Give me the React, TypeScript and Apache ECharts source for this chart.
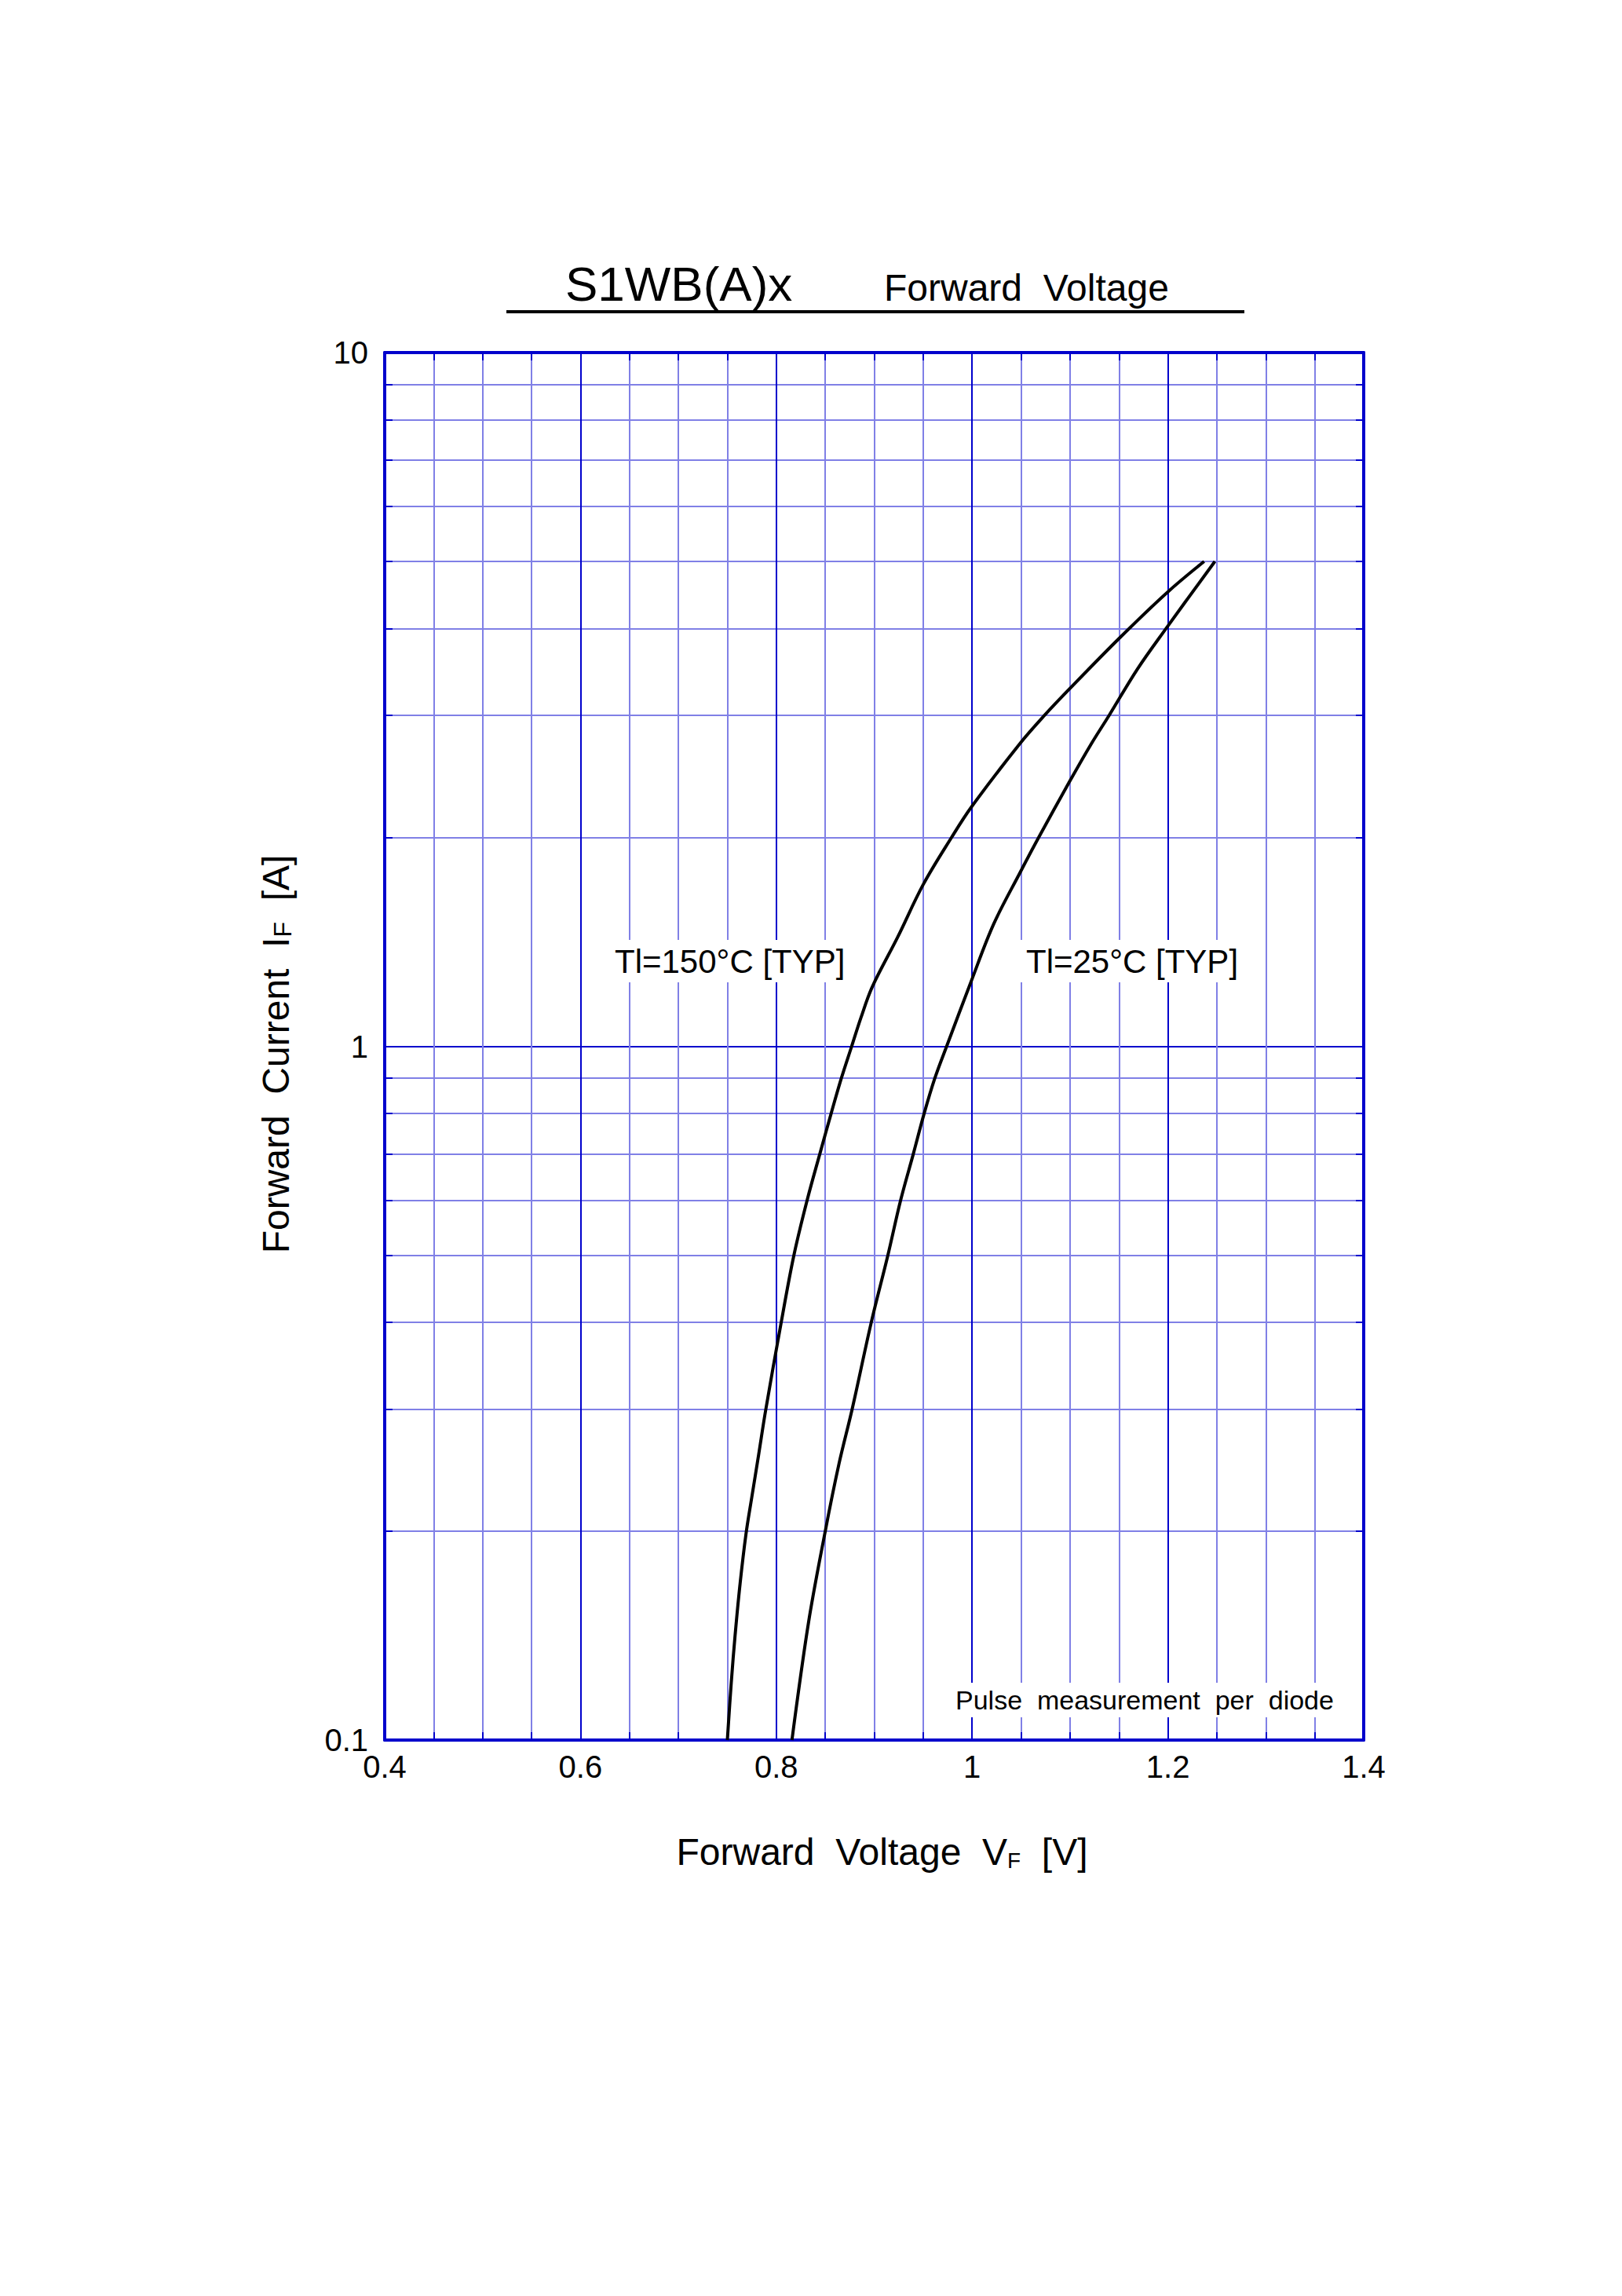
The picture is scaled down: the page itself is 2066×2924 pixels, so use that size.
import { useEffect, useRef } from 'react'
import * as echarts from 'echarts'

// Forward characteristic at Tl = 150 °C (typical)
const hot150Voltage = [
  0.75, 0.754, 0.758, 0.763, 0.769, 0.775, 0.782, 0.789, 0.805, 0.818, 0.8315, 0.8445, 0.856, 0.8665,
  0.877, 0.8865, 0.898, 0.924, 0.95, 0.979, 0.999, 1.049, 1.074, 1.1, 1.15, 1.2, 1.237,
]
const hot150Current = [
  0.1, 0.121, 0.142, 0.168, 0.198, 0.224, 0.258, 0.298, 0.4, 0.5, 0.6, 0.7, 0.8, 0.9,
  1.0, 1.1, 1.218, 1.437, 1.71, 2.0, 2.21, 2.733, 3.0, 3.28, 3.87, 4.52, 5.0,
]

// Forward characteristic at Tl = 25 °C (typical)
const room25Voltage = [
  0.816, 0.833, 0.85, 0.864, 0.8775, 0.897, 0.914, 0.927, 0.94, 0.951, 0.962, 0.974, 0.999, 1.022,
  1.049, 1.068, 1.099, 1.122, 1.14, 1.169, 1.198, 1.248,
]
const room25Current = [
  0.1, 0.148, 0.2, 0.25, 0.3, 0.4, 0.5, 0.6, 0.7, 0.8, 0.9, 1.0, 1.24, 1.5,
  1.78, 2.0, 2.4, 2.733, 3.0, 3.5, 4.0, 5.0,
]

const voltageTicks = [
  0.4, 0.45, 0.5, 0.55, 0.6, 0.65, 0.7, 0.75, 0.8, 0.85, 0.9, 0.95, 1.0, 1.05, 1.1, 1.15, 1.2, 1.25, 1.3,
  1.35, 1.4,
]
const voltageLabels = [0.4, 0.6, 0.8, 1, 1.2, 1.4]
const currentTicks = [
  0.1, 0.2, 0.3, 0.4, 0.5, 0.6, 0.7, 0.8, 0.9, 1, 2, 3, 4, 5, 6, 7, 8, 9, 10,
]
const currentLabels = [0.1, 1, 10]

const DARK = '#0000cc'
const LIGHT = '#8080e6'
const FONT = "'Liberation Sans', Arial, sans-serif"

const toPairs = (xs: number[], ys: number[]) => xs.map((x, i) => [x, ys[i]])

function ForwardVoltageChart() {
  const chartRef = useRef<HTMLDivElement>(null)

  useEffect(() => {
    if (!chartRef.current) return
    const chart = echarts.init(chartRef.current, null, { renderer: 'svg' })

    const frameTick = {
      show: true,
      inside: true,
      length: 10,
      lineStyle: { color: DARK, width: 2 },
    }
    const frameLine = { show: true, onZero: false, lineStyle: { color: DARK, width: 4 } }

    const option = {
      animation: false,
      textStyle: { fontFamily: FONT },
      grid: { left: 490, top: 449, width: 1247, height: 1767 },
      xAxis: [
        {
          type: 'value',
          position: 'bottom',
          min: 0.4,
          max: 1.4,
          axisLine: frameLine,
          axisTick: { ...frameTick, customValues: voltageTicks },
          axisLabel: {
            customValues: voltageLabels,
            margin: 14,
            fontSize: 40,
            color: '#000',
            fontFamily: FONT,
          },
          splitLine: {
            show: true,
            showMinLine: true,
            showMaxLine: true,
            lineStyle: { color: [DARK, LIGHT, LIGHT, LIGHT], width: 2 },
          },
          name: '{m|Forward  Voltage  V}{s|F}{m|  [V]}',
          nameLocation: 'middle',
          nameGap: 117,
          nameTextStyle: {
            color: '#000',
            padding: [0, 0, 0, 20],
            rich: {
              m: { fontSize: 48, lineHeight: 50, fontFamily: FONT, color: '#000' },
              s: { fontSize: 28, lineHeight: 22, verticalAlign: 'bottom', fontFamily: FONT, color: '#000' },
            },
          },
        },
        {
          type: 'value',
          position: 'top',
          min: 0.4,
          max: 1.4,
          axisLine: frameLine,
          axisTick: { ...frameTick, customValues: voltageTicks },
          axisLabel: { show: false },
          splitLine: { show: false },
        },
      ],
      yAxis: [
        {
          type: 'log',
          logBase: 10,
          position: 'left',
          min: 0.1,
          max: 10,
          axisLine: frameLine,
          axisTick: { ...frameTick, customValues: currentTicks },
          axisLabel: {
            customValues: currentLabels,
            margin: 21,
            fontSize: 40,
            color: '#000',
            fontFamily: FONT,
            padding: [8, 0, 0, 0],
          },
          splitLine: {
            show: true,
            showMinLine: true,
            showMaxLine: true,
            lineStyle: {
              color: [DARK, LIGHT, LIGHT, LIGHT, LIGHT, LIGHT, LIGHT, LIGHT, LIGHT],
              width: 2,
            },
          },
          name: '{m|Forward  Current  I}{s|F}{m|  [A]}',
          nameLocation: 'middle',
          nameGap: 114,
          nameTextStyle: {
            color: '#000',
            padding: [0, 20, 0, 0],
            rich: {
              m: { fontSize: 48, lineHeight: 50, fontFamily: FONT, color: '#000' },
              s: { fontSize: 32, lineHeight: 24, verticalAlign: 'bottom', fontFamily: FONT, color: '#000' },
            },
          },
        },
        {
          type: 'log',
          logBase: 10,
          position: 'right',
          min: 0.1,
          max: 10,
          axisLine: frameLine,
          axisTick: { ...frameTick, customValues: currentTicks },
          axisLabel: { show: false },
          splitLine: { show: false },
        },
      ],
      series: [
        {
          name: 'Tl=150°C',
          type: 'line',
          data: toPairs(hot150Voltage, hot150Current),
          showSymbol: false,
          smooth: 0.35,
          lineStyle: { color: '#000', width: 4 },
          z: 5,
        },
        {
          name: 'Tl=25°C',
          type: 'line',
          data: toPairs(room25Voltage, room25Current),
          showSymbol: false,
          smooth: 0.35,
          lineStyle: { color: '#000', width: 4 },
          z: 5,
        },
      ],
      graphic: [
        {
          type: 'text',
          x: 720,
          y: 361,
          style: { text: 'S1WB(A)x', fontSize: 62, fontFamily: FONT, fill: '#000', verticalAlign: 'middle' },
        },
        {
          type: 'text',
          x: 1126,
          y: 366,
          style: { text: 'Forward  Voltage', fontSize: 48, fontFamily: FONT, fill: '#000', verticalAlign: 'middle' },
        },
        {
          type: 'line',
          shape: { x1: 645, y1: 397, x2: 1585, y2: 397 },
          style: { stroke: '#000', lineWidth: 4 },
        },
        {
          type: 'text',
          x: 775,
          y: 1224,
          z: 100,
          style: {
            text: 'Tl=150°C [TYP]',
            fontSize: 42,
            fontFamily: FONT,
            fill: '#000',
            backgroundColor: '#fff',
            padding: [6, 8],
            verticalAlign: 'middle',
          },
        },
        {
          type: 'text',
          x: 1299,
          y: 1224,
          z: 100,
          style: {
            text: 'Tl=25°C [TYP]',
            fontSize: 42,
            fontFamily: FONT,
            fill: '#000',
            backgroundColor: '#fff',
            padding: [6, 8],
            verticalAlign: 'middle',
          },
        },
        {
          type: 'text',
          x: 1211,
          y: 2165,
          z: 100,
          style: {
            text: 'Pulse  measurement  per  diode',
            fontSize: 34,
            fontFamily: FONT,
            fill: '#000',
            backgroundColor: '#fff',
            padding: [5, 6],
            verticalAlign: 'middle',
          },
        },
      ],
    }

    chart.setOption(option)

    return () => {
      chart.dispose()
    }
  }, [])

  return (
    <div
      ref={chartRef}
      style={{ position: 'absolute', left: 0, top: 0, width: '2066px', height: '2924px', background: '#fff' }}
    />
  )
}

export default function App() {
  return <ForwardVoltageChart />
}
